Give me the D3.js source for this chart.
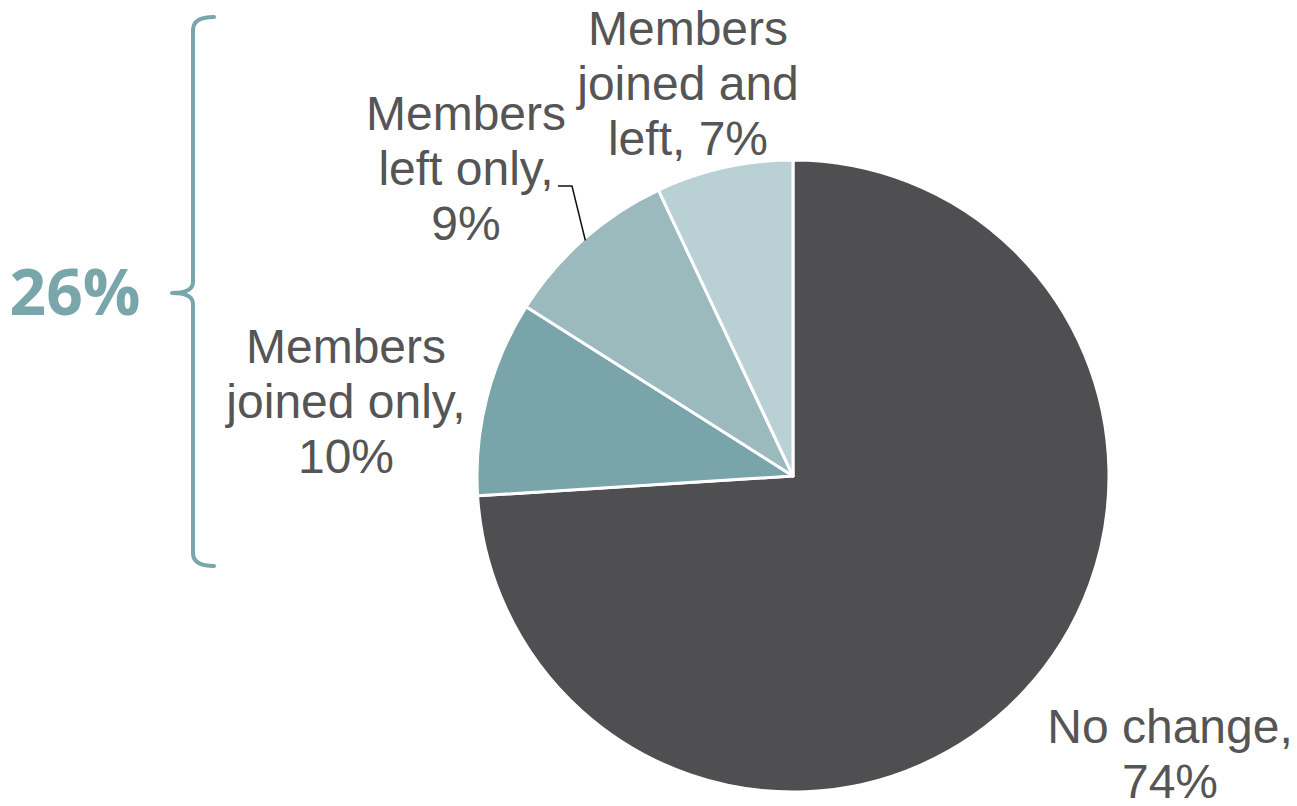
<!DOCTYPE html>
<html>
<head>
<meta charset="utf-8">
<script src="https://cdn.jsdelivr.net/npm/d3@7"></script>
<style>
  html, body { margin: 0; padding: 0; background: #ffffff; }
  svg { display: block; }
</style>
</head>
<body>
<svg id="chart" width="1297" height="806"></svg>
<script>
// Membership change breakdown
const categories = ["No change", "Members joined only", "Members left only", "Members joined and left"];
const values = [74, 10, 9, 7];
const labelLines = [
  ["No change,", "74%"],
  ["Members", "joined only,", "10%"],
  ["Members", "left only,", "9%"],
  ["Members", "joined and", "left, 7%"]
];

const colors = ["#4f4f51", "#79a4aa", "#9bbabe", "#b9d1d4"];
const textColor = "#555555";
const accent = "#79a6ab";

// label anchor (centre x, first baseline y) for each slice
const labelLayout = [
  { x: 1170, y: 743 },
  { x: 346, y: 363 },
  { x: 466, y: 130 },
  { x: 688, y: 45 }
];
const lineGap = 55;

const svg = d3.select("#chart");
const cx = 793, cy = 476, radius = 316;

const pie = d3.pie().sort(null).value(d => d.value);
const data = categories.map((c, i) => ({ category: c, value: values[i], lines: labelLines[i], idx: i }));
const arcs = pie(data);

const arc = d3.arc().innerRadius(0).outerRadius(radius);

const g = svg.append("g").attr("transform", `translate(${cx},${cy})`);

g.selectAll("path.slice")
  .data(arcs)
  .join("path")
  .attr("class", "slice")
  .attr("d", arc)
  .attr("fill", d => colors[d.data.idx])
  .attr("stroke", "#ffffff")
  .attr("stroke-width", 3)
  .attr("stroke-linejoin", "round");

// slice labels
const labels = svg.selectAll("text.label")
  .data(arcs)
  .join("text")
  .attr("class", "label")
  .attr("text-anchor", "middle")
  .attr("font-family", "'Liberation Sans', Arial, sans-serif")
  .attr("font-size", 48)
  .attr("fill", textColor);

labels.each(function(d) {
  const pos = labelLayout[d.data.idx];
  const t = d3.select(this);
  d.data.lines.forEach((line, j) => {
    t.append("tspan")
      .attr("x", pos.x)
      .attr("y", pos.y + j * lineGap)
      .text(line);
  });
});

// leader line for the "left only" slice
const leftOnly = arcs[2];
const midAngle = (leftOnly.startAngle + leftOnly.endAngle) / 2;
const tipX = cx + (radius - 2) * Math.sin(midAngle);
const tipY = cy - (radius - 2) * Math.cos(midAngle);
const lp = labelLayout[2];
svg.append("path")
  .attr("d", `M${lp.x + 92},${lp.y + 56} H${lp.x + 106} L${tipX},${tipY}`)
  .attr("fill", "none")
  .attr("stroke", "#111111")
  .attr("stroke-width", 1.5);

// bracket grouping the changed categories
const changed = d3.sum(values.slice(1));
svg.append("path")
  .attr("d", "M214,17 Q193,17 193,30 V282 Q193,293 172,293 Q193,293 193,304 V553 Q193,566 214,566")
  .attr("fill", "none")
  .attr("stroke", accent)
  .attr("stroke-width", 4)
  .attr("stroke-linecap", "round")
  .attr("stroke-linejoin", "round");

svg.append("text")
  .attr("x", 75)
  .attr("y", 293)
  .attr("dy", "0.35em")
  .attr("text-anchor", "middle")
  .attr("font-family", "'Open Sans', sans-serif")
  .attr("font-weight", 700)
  .attr("font-size", 64)
  .attr("fill", accent)
  .text(`${changed}%`);
</script>
</body>
</html>
